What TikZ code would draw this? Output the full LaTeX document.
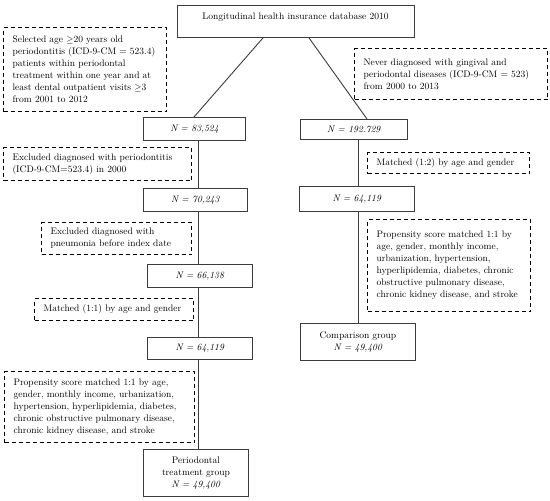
\documentclass[tikz,border=0pt]{standalone}
\usetikzlibrary{calc}
\definecolor{linegray}{RGB}{60,60,60}
\begin{document}
\begin{tikzpicture}[x=1pt,y=-1pt,
  every node/.style={font=\fontsize{9.5}{12}\selectfont},
  solidbox/.style={draw=linegray, line width=0.9pt, fill=white, rectangle, anchor=north west, inner sep=0pt, align=center},
  dashbox/.style={draw=black, line width=1.1pt, dash pattern=on 4pt off 3pt, fill=white, rectangle, anchor=north west, inner xsep=9pt, inner ysep=0pt, align=left},
  conn/.style={draw=linegray, line width=0.9pt}]
\useasboundingbox (0,0) rectangle (550,501);
% top box
\node[solidbox, minimum width=237pt, minimum height=32pt] (db) at (177,5) {};
\node[font=\fontsize{9.5}{12}\selectfont, inner sep=0pt] (dbtext) at (295.5,17) {Longitudinal health insurance database 2010};
% left column
\node[solidbox, minimum width=102pt, minimum height=23pt] (l1) at (143,117) {\textit{N = 83,524}};
\node[solidbox, minimum width=104pt, minimum height=23pt] (l2) at (143,188) {\textit{N = 70,243}};
\node[solidbox, minimum width=105pt, minimum height=23pt] (l3) at (147,264) {\textit{N = 66,138}};
\node[solidbox, minimum width=105pt, minimum height=22pt] (l4) at (147,337) {\textit{N = 64,119}};
\node[solidbox, minimum width=105pt, minimum height=47pt] (l5) at (143,449) {Periodontal\\treatment group\\\textit{N = 49,400}};
% right column
\node[solidbox, minimum width=107pt, minimum height=20pt] (r1) at (300,119) {\textit{N = 192.729}};
\node[solidbox, minimum width=115pt, minimum height=25pt] (r2) at (299,186) {\textit{N = 64,119}};
\node[solidbox, minimum width=115pt, minimum height=37pt] (r3) at (300,323) {Comparison group\\\textit{N = 49,400}};
% dashed notes
\node[dashbox, text width=145pt, minimum height=84pt] (dl1) at (3,27) {Selected age ${\geq}$20 years old\\periodontitis (ICD-9-CM = 523.4)\\patients within periodontal\\treatment within one year and at\\least dental outpatient visits ${\geq}$3\\from 2001 to 2012};
\node[dashbox, text width=175pt, minimum height=51pt] (dr1) at (354,48) {Never diagnosed with gingival and\\periodontal diseases (ICD-9-CM = 523)\\from 2000 to 2013};
\node[dashbox, text width=170pt, minimum height=33pt] (dl2) at (3,147) {Excluded diagnosed with periodontitis\\(ICD-9-CM=523.4) in 2000};
\node[dashbox, text width=132pt, minimum height=32pt] (dl3) at (41,222) {Excluded diagnosed with\\pneumonia before index date};
\node[dashbox, text width=141pt, minimum height=22pt] (dl4) at (34,298) {Matched (1:1) by age and gender};
\node[dashbox, text width=172pt, minimum height=71pt] (dl5) at (4,371) {Propensity score matched 1:1 by age,\\gender, monthly income, urbanization,\\hypertension, hyperlipidemia, diabetes,\\chronic obstructive pulmonary disease,\\chronic kidney disease, and stroke};
\node[dashbox, text width=144pt, minimum height=21pt] (dr2) at (367,152) {Matched (1:2) by age and gender};
\node[dashbox, text width=145pt, minimum height=92pt] (dr3) at (367,219) {Propensity score matched 1:1 by\\age, gender, monthly income,\\urbanization, hypertension,\\hyperlipidemia, diabetes, chronic\\obstructive pulmonary disease,\\chronic kidney disease, and stroke};
% connectors
\coordinate (xl) at (198,0);
\coordinate (xr) at (358,0);
\draw[conn] ($(db.south west)+(86,0)$) -- ($(l1.north west)+(51,0)$);
\draw[conn] ($(db.south west)+(132,0)$) -- ($(r1.north west)+(67,0)$);
\draw[conn] (l1.south -| xl) -- (l2.north -| xl);
\draw[conn] (l2.south -| xl) -- (l3.north -| xl);
\draw[conn] (l3.south -| xl) -- (l4.north -| xl);
\draw[conn] (l4.south -| xl) -- (l5.north -| xl);
\draw[conn] (r1.south -| xr) -- (r2.north -| xr);
\draw[conn] (r2.south -| xr) -- (r3.north -| xr);
\end{tikzpicture}
\end{document}
